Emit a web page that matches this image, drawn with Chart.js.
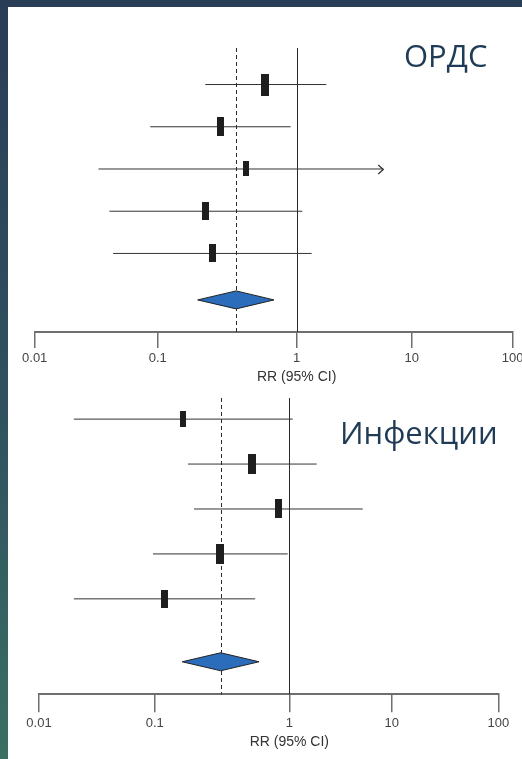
<!DOCTYPE html>
<html>
<head>
<meta charset="utf-8">
<script src="https://cdn.jsdelivr.net/npm/chart.js@4.4.1/dist/chart.umd.min.js"></script>
<style>
  html, body { margin: 0; padding: 0; }
  body {
    width: 522px; height: 759px; overflow: hidden; position: relative;
    background: linear-gradient(180deg, #2a3d56 0%, #2f5260 55%, #3a6f62 100%);
  }
  .panel { position: absolute; left: 8px; top: 7px; right: 0; bottom: 0; background: #fff; }
  canvas { position: absolute; left: 0; }
  .label {
    position: absolute; font-family: "Open Sans", sans-serif; font-size: 31px;
    line-height: 1; color: #1f3b55; white-space: nowrap;
  }
</style>
</head>
<body>
<div class="panel"></div>
<canvas id="ards" width="522" height="392" style="top:0"></canvas>
<canvas id="inf" width="522" height="379" style="top:380px"></canvas>
<div class="label" style="left:404px; top:40px">ОРДС</div>
<div class="label" style="left:340px; top:417px">Инфекции</div>
<script>
// shared axis
const tickValues = [0.01, 0.1, 1, 10, 100];
const tickLabels = ['0.01', '0.1', '1', '10', '100'];
const axisTitle = 'RR (95% CI)';

// ОРДС: study estimates and 95% CI
const ardsEst = [0.59, 0.283, 0.43, 0.222, 0.25];
const ardsLow = [0.22, 0.087, 0.033, 0.0405, 0.0434];
const ardsHigh = [1.81, 0.905, 5.66, 1.12, 1.35];
const ardsWeight = [28.5, 21.2, 13.0, 18.2, 19.2];
const ardsArrow = [false, false, true, false, false];
const ardsPooled = [0.194, 0.367, 0.687]; // low, est, high

// Инфекции
const infEst = [0.163, 0.528, 0.824, 0.305, 0.119];
const infLow = [0.020, 0.177, 0.196, 0.0966, 0.020];
const infHigh = [1.08, 1.85, 5.21, 0.973, 0.558];
const infWeight = [14.6, 22.9, 20.6, 24.0, 18.0];
const infArrow = [false, false, false, false, false];
const infPooled = [0.160, 0.309, 0.596];

//..the picture's log axis is not evenly spaced, so decades get their own share
const decadeKnots = {
    ards: [0, 0.2573, 0.548, 0.7887, 1],
    inf: [0, 0.2519, 0.545, 0.768, 1]
};

function warp(d, k) {
    const i = Math.min(3, Math.max(0, Math.floor(d * 4)));
    const t = d * 4 - i;
    return k[i] + t * (k[i + 1] - k[i]);
}

function unwarp(w, k) {
    let i = 0;
    while (i < 3 && w > k[i + 1]) i++;
    return (i + (w - k[i]) / (k[i + 1] - k[i])) / 4;
}

class WarpLogScale extends Chart.LogarithmicScale {
    knots() {
        return decadeKnots[this.chart.canvas.id] || [0, 0.25, 0.5, 0.75, 1];
    }
    getPixelForDecimal(d) {
        return super.getPixelForDecimal(warp(d, this.knots()));
    }
    getDecimalForPixel(p) {
        return unwarp(super.getDecimalForPixel(p), this.knots());
    }
}
WarpLogScale.id = 'warplog';
WarpLogScale.defaults = Chart.LogarithmicScale.defaults;
Chart.register(WarpLogScale);

function boxStyle(weight) {
    const h = Math.round(Math.sqrt(weight) * 4.15);
    const w = Math.max(5, Math.round(h * 0.38));
    const c = document.createElement('canvas');
    c.width = w;
    c.height = h;
    const g = c.getContext('2d');
    g.fillStyle = '#1e1e1e';
    g.fillRect(0, 0, w, h);
    return c;
}

function forestPlugin(cfg) {
    return {
        id: 'forest',
        beforeDatasetsDraw(chart) {
            const { ctx, chartArea: a, scales: { x } } = chart;
            ctx.save();
            ctx.strokeStyle = '#2b2b2b';
            ctx.lineWidth = 1;
            const x1 = Math.round(x.getPixelForValue(1)) + 0.5;
            ctx.beginPath();
            ctx.moveTo(x1, a.top);
            ctx.lineTo(x1, a.bottom);
            ctx.stroke();
            const xp = Math.round(x.getPixelForValue(cfg.pooled[1])) + 0.5;
            ctx.setLineDash([4, 3]);
            ctx.beginPath();
            ctx.moveTo(xp, a.top);
            ctx.lineTo(xp, a.bottom);
            ctx.stroke();
            ctx.restore();
        },
        afterDatasetsDraw(chart) {
            const { ctx, chartArea: a, scales: { x, y } } = chart;
            ctx.save();
            // arrows for intervals that run off the plot
            ctx.strokeStyle = '#333';
            ctx.lineWidth = 1.3;
            cfg.arrow.forEach((on, i) => {
                if (!on) return;
                const px = x.getPixelForValue(cfg.high[i]);
                const py = Math.round(y.getPixelForValue(i + 1)) + 0.5;
                ctx.beginPath();
                ctx.moveTo(px - 5, py - 4.5);
                ctx.lineTo(px, py);
                ctx.lineTo(px - 5, py + 4.5);
                ctx.stroke();
            });
            // pooled diamond
            const yc = y.getPixelForValue(cfg.pooledRow);
            ctx.beginPath();
            ctx.moveTo(x.getPixelForValue(cfg.pooled[0]), yc);
            ctx.lineTo(x.getPixelForValue(cfg.pooled[1]), yc - 9);
            ctx.lineTo(x.getPixelForValue(cfg.pooled[2]), yc);
            ctx.lineTo(x.getPixelForValue(cfg.pooled[1]), yc + 9);
            ctx.closePath();
            ctx.fillStyle = '#2b6cbb';
            ctx.fill();
            ctx.strokeStyle = '#222';
            ctx.lineWidth = 1;
            ctx.stroke();
            // axis title under the "1" tick
            ctx.fillStyle = '#333';
            ctx.font = '14px "Liberation Sans", Arial, sans-serif';
            ctx.textAlign = 'center';
            ctx.textBaseline = 'middle';
            ctx.fillText(axisTitle, x.getPixelForValue(1), a.bottom + cfg.titleGap);
            ctx.restore();
        }
    };
}

function drawForest(id, est, low, high, weight, arrow, pooled, lay) {
    const datasets = [{
        data: est.map((v, i) => ({ x: v, y: i + 1 })),
        pointStyle: weight.map(boxStyle),
        showLine: false,
        order: 0
    }];
    est.forEach((_, i) => {
        datasets.push({
            data: [{ x: low[i], y: i + 1 }, { x: high[i], y: i + 1 }],
            showLine: true,
            borderColor: '#333',
            borderWidth: 1,
            pointRadius: 0,
            order: 1
        });
    });

    new Chart(document.getElementById(id), {
        type: 'scatter',
        data: { datasets },
        options: {
            responsive: false,
            animation: false,
            events: [],
            layout: { padding: lay.padding },
            plugins: { legend: { display: false }, tooltip: { enabled: false } },
            scales: {
                x: {
                    type: 'warplog',
                    min: 0.01,
                    max: 100,
                    afterFit: s => { s.height = 50; s.paddingLeft = 0; s.paddingRight = 0; },
                    afterBuildTicks: s => { s.ticks = tickValues.map(v => ({ value: v, major: true })); },
                    ticks: {
                        callback: (v, i) => tickLabels[i],
                        autoSkip: false,
                        maxRotation: 0,
                        padding: lay.tickPad,
                        color: '#444',
                        font: { family: '"Liberation Sans", Arial, sans-serif', size: 13 }
                    },
                    grid: {
                        drawOnChartArea: false,
                        drawTicks: true,
                        tickLength: lay.tickLen,
                        color: '#6e6e6e',
                        lineWidth: 1.5
                    },
                    border: { display: true, color: '#6e6e6e', width: 2 }
                },
                y: { type: 'linear', display: false, reverse: true, min: lay.yMin, max: lay.yMax }
            }
        },
        plugins: [forestPlugin({ pooled, arrow, high, pooledRow: lay.pooledRow, titleGap: lay.titleGap })]
    });
}

drawForest('ards', ardsEst, ardsLow, ardsHigh, ardsWeight, ardsArrow, ardsPooled, {
    padding: { left: 34.7, right: 9.3, top: 48, bottom: 10 },
    yMin: 0.135, yMax: 6.86, pooledRow: 6.1,
    tickLen: 16, tickPad: 3, titleGap: 45
});

drawForest('inf', infEst, infLow, infHigh, infWeight, infArrow, infPooled, {
    padding: { left: 39, right: 23.7, top: 18, bottom: 14.7 },
    yMin: 0.53, yMax: 7.124, pooledRow: 6.4,
    tickLen: 18, tickPad: 3, titleGap: 47.4
});
</script>
</body>
</html>
